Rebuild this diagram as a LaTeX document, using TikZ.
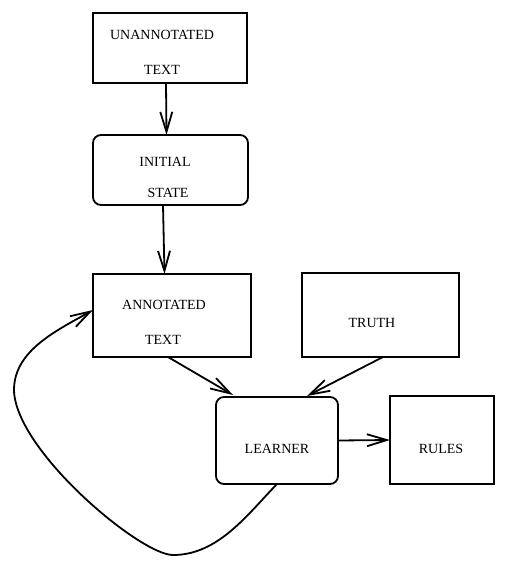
\documentclass[tikz,border=0pt]{standalone}
\usepackage{fontspec}
\setmainfont{Liberation Serif}
\usetikzlibrary{arrows.meta}
\begin{document}
\begin{tikzpicture}[x=.5pt, y=-.5pt, >={Straight Barb[length=10pt,width=6pt]}, line width=.9pt,
  box/.style={draw, inner sep=0pt, outer sep=0pt},
  rbox/.style={box, rounded corners=4pt},
  lbl/.style={font=\fontsize{7}{8}\selectfont, inner sep=0pt}]
\useasboundingbox (0,0) rectangle (510,561);
% boxes
\node[box, minimum width=77pt, minimum height=35pt] (unann) at (170,48) {};
\node[rbox, minimum width=77.5pt, minimum height=35pt] (init) at (170.5,170) {};
\node[box, minimum width=79pt, minimum height=41.5pt] (ann) at (172,315.5) {};
\node[box, minimum width=78.5pt, minimum height=42pt] (truth) at (380.5,315) {};
\node[rbox, minimum width=61pt, minimum height=43.5pt] (learner) at (277,440.5) {};
\node[box, minimum width=52pt, minimum height=44pt] (rules) at (442,440) {};
% texts
\node[lbl] (unann1) at (162,35){UNANNOTATED};
\node[lbl] (unann2) at (162,70){TEXT};
\node[lbl] (init1) at (165,162){INITIAL};
\node[lbl] (init2) at (168,193){STATE};
\node[lbl] (ann1) at (164,305){ANNOTATED};
\node[lbl] (ann2) at (163,340){TEXT};
\node[lbl] (truth1) at (372,323){TRUTH};
\node[lbl] (learner1) at (277,449){LEARNER};
\node[lbl] (rules1) at (441,449){RULES};
% arrows
\draw[->] ([xshift=-2pt]unann.south) -- ([xshift=-2pt]init.north);
\draw[->] ([xshift=-3.75pt]init.south) -- ([xshift=-3.75pt]ann.north);
\draw[->] ([xshift=-2pt]ann.south) -- ([xshift=8.5pt,yshift=1pt]learner.north west);
\draw[->] ([xshift=1.25pt]truth.south) -- ([xshift=-15.5pt,yshift=.5pt]learner.north east);
\draw[->] (learner.east) -- (rules.west);
\draw[->] (learner.south) .. controls (247,515) and (218,555) .. (173,555)
  .. controls (140,555) and (15,450) .. (14,390)
  .. controls (14,350) and (58,330) .. ([yshift=2.75pt]ann.west);
\end{tikzpicture}
\end{document}
